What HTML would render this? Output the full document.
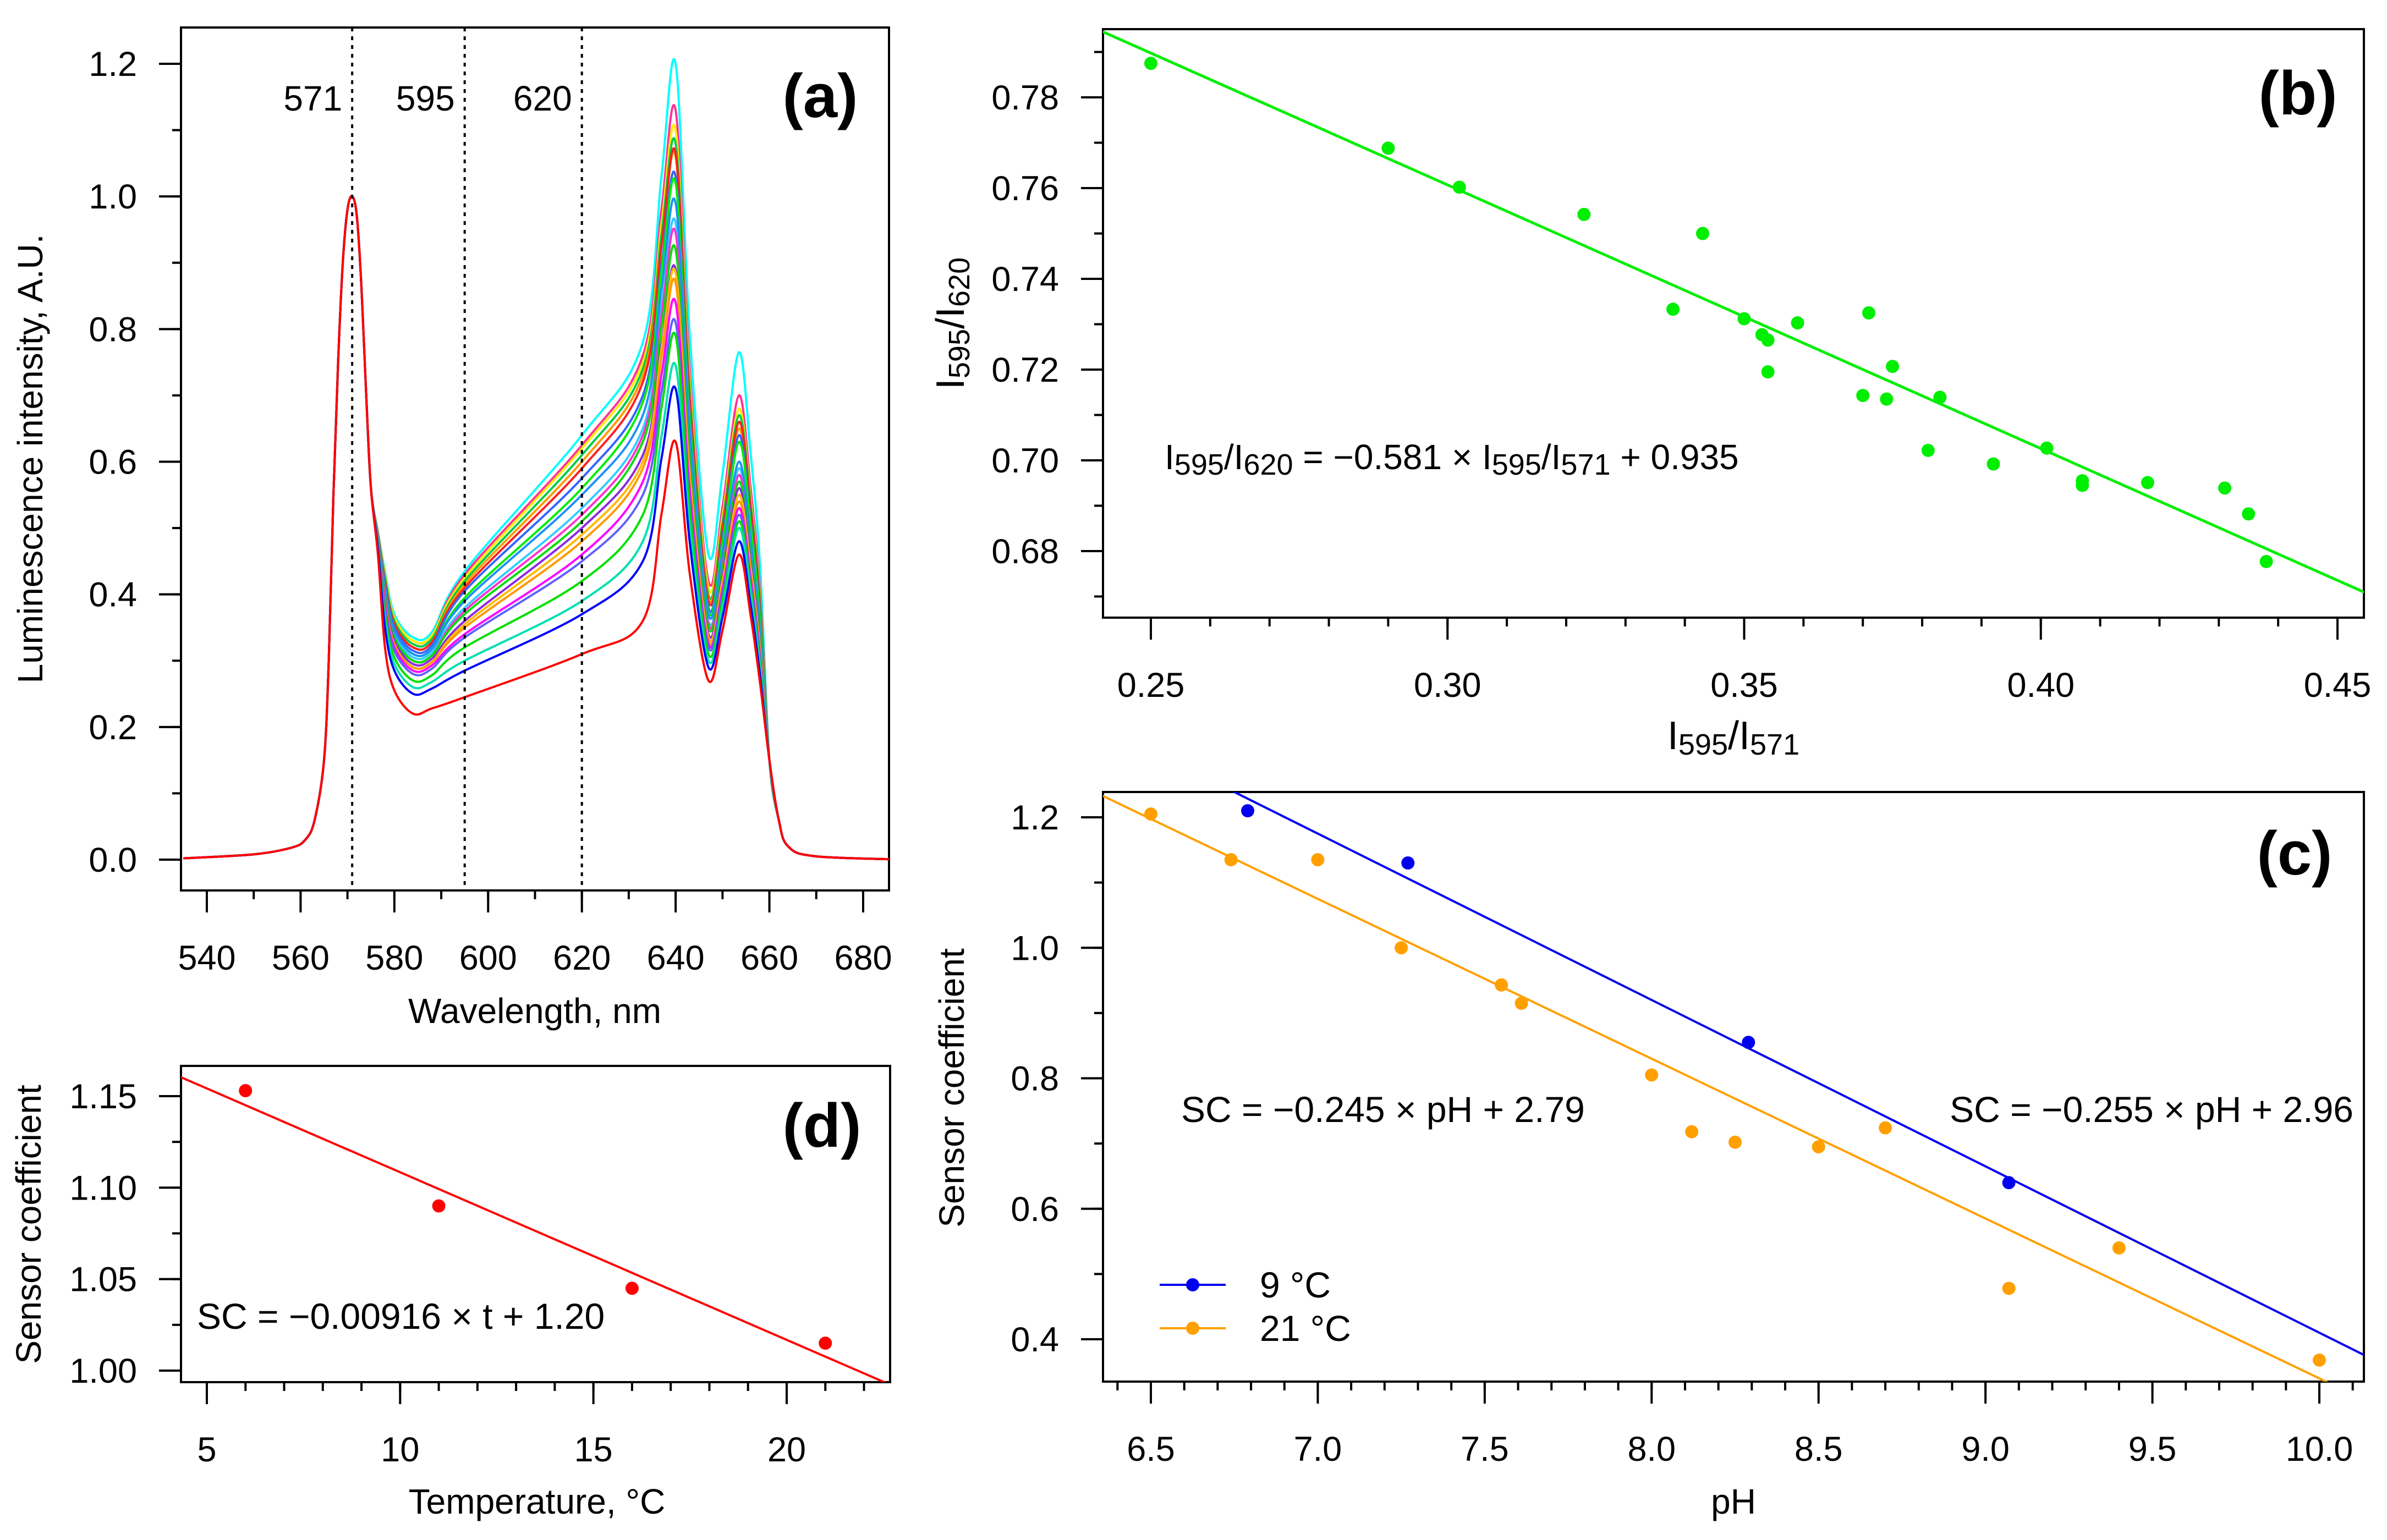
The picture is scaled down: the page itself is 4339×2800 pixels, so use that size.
<!DOCTYPE html>
<html><head><meta charset="utf-8"><style>
html,body{margin:0;padding:0;background:#fff;}
svg{display:block;font-family:"Liberation Sans",sans-serif;}
</style></head><body>
<svg id="fig" width="4339" height="2800" viewBox="0 0 4339 2800" xmlns="http://www.w3.org/2000/svg"></svg>
<script>
// ---------- Panel (a) spectra data ----------
const sharedWl = [535,550,558,561,563,565,566,567,568,569,570,571,572,573,574,575];
const sharedVal = [0.002,0.008,0.018,0.03,0.06,0.15,0.3,0.55,0.75,0.9,0.98,1.0,0.97,0.86,0.7,0.56];
const curveColors = ["#00ffff","#ff3399","#ffee00","#00cc44","#ff9900","#ff2020","#3366ff","#00ee00","#33ccff","#ff33cc","#1e90ff","#00dd00","#8a2be2","#ffbb00","#ff9900","#ff00ff","#6060ff","#00e000","#00e0b0","#0000ff","#ff0000"];
const valleyVals = [0.335,0.33,0.33,0.325,0.32,0.32,0.315,0.31,0.305,0.30,0.31,0.30,0.295,0.29,0.29,0.285,0.28,0.27,0.26,0.25,0.22];
const v595Vals = [0.435,0.43,0.425,0.42,0.415,0.41,0.405,0.395,0.38,0.375,0.39,0.37,0.36,0.355,0.35,0.34,0.335,0.32,0.30,0.285,0.245];
const v620Vals = [0.64,0.625,0.62,0.61,0.60,0.59,0.575,0.56,0.53,0.52,0.55,0.51,0.50,0.49,0.48,0.46,0.45,0.42,0.39,0.37,0.31];
const v633Vals = [0.78,0.76,0.75,0.74,0.73,0.72,0.70,0.69,0.65,0.64,0.67,0.63,0.61,0.60,0.59,0.57,0.55,0.52,0.48,0.45,0.36];
const peak640Vals = [1.20,1.13,1.10,1.08,1.06,1.065,1.03,1.02,0.96,0.945,0.99,0.92,0.89,0.885,0.87,0.84,0.81,0.79,0.745,0.71,0.63];
const dip647Vals = [0.46,0.42,0.41,0.40,0.395,0.39,0.38,0.375,0.36,0.355,0.37,0.35,0.34,0.335,0.33,0.325,0.32,0.31,0.30,0.29,0.27];
const peak653Vals = [0.765,0.70,0.68,0.67,0.65,0.66,0.64,0.63,0.59,0.58,0.60,0.57,0.56,0.55,0.54,0.53,0.52,0.51,0.50,0.48,0.46];
const markerWl = [571,595,620];
const aXTicks = [540,560,580,600,620,640,660,680];
const aYTicks = [0.0,0.2,0.4,0.6,0.8,1.0,1.2];

// ---------- Panel (b) ----------
const bX = [0.250,0.290,0.302,0.323,0.343,0.338,0.350,0.353,0.354,0.354,0.359,0.371,0.370,0.374,0.375,0.383,0.381,0.392,0.401,0.407,0.407,0.418,0.431,0.435,0.438];
const bY = [0.7875,0.7688,0.7602,0.7542,0.7500,0.7333,0.7312,0.7277,0.7265,0.7195,0.7303,0.7325,0.7143,0.7135,0.7207,0.7139,0.7022,0.6992,0.7027,0.6955,0.6945,0.6951,0.6939,0.6882,0.6777];
const bFit = [-0.581,0.935];
const bXTicks = [0.25,0.30,0.35,0.40,0.45];
const bYTicks = [0.68,0.70,0.72,0.74,0.76,0.78];

// ---------- Panel (c) ----------
const c9X = [6.79,7.27,8.29,9.07];
const c9Y = [1.21,1.13,0.855,0.64];
const c21X = [6.5,6.74,7.0,7.25,7.55,7.61,8.0,8.12,8.25,8.5,8.7,9.07,9.4,10.0];
const c21Y = [1.205,1.135,1.135,1.0,0.943,0.915,0.805,0.718,0.702,0.695,0.724,0.478,0.54,0.368];
const c9Fit = [-0.255,2.96];
const c21Fit = [-0.245,2.79];
const cXTicks = [6.5,7.0,7.5,8.0,8.5,9.0,9.5,10.0];
const cYTicks = [0.4,0.6,0.8,1.0,1.2];

// ---------- Panel (d) ----------
const dX = [6,11,16,21];
const dY = [1.153,1.090,1.045,1.015];
const dFit = [-0.00916,1.20];
const dXTicks = [5,10,15,20];
const dYTicks = ["1.00","1.05","1.10","1.15"];

const NS="http://www.w3.org/2000/svg";
const svg=document.getElementById('fig');
function mk(tag,attrs,parent){const e=document.createElementNS(NS,tag);for(const k in attrs)e.setAttribute(k,attrs[k]);(parent||svg).appendChild(e);return e;}
function scale(d0,d1,r0,r1){return v=>r0+(v-d0)*(r1-r0)/(d1-d0);}

function drawAxes(g,P,sx,sy,xt,yt,xminor,yminor,fmtX,fmtY){
  const cid='clip'+P.id;
  const cp=mk('clipPath',{id:cid},g);
  mk('rect',{x:P.l,y:P.t,width:P.r-P.l,height:P.b-P.t},cp);
  for(const v of xminor){const x=sx(v);if(x<P.l-1||x>P.r+1)continue;
    const t=mk('line',{x1:x,x2:x,y1:P.b,y2:P.b+16,stroke:'#000','stroke-width':4},g);
    }
  for(const v of yminor){const y=sy(v);if(y<P.t-1||y>P.b+1)continue;
    const t=mk('line',{x1:P.l-16,x2:P.l,y1:y,y2:y,stroke:'#000','stroke-width':4},g);
    }
  for(const v of xt){const x=sx(+v);
    const t=mk('line',{x1:x,x2:x,y1:P.b,y2:P.b+40,stroke:'#000','stroke-width':4},g);
    
    const tx=mk('text',{x:x,y:P.b+144,'font-size':63,'text-anchor':'middle'},g);tx.textContent=fmtX(v);
    }
  for(const v of yt){const y=sy(+v);
    const t=mk('line',{x1:P.l-40,x2:P.l,y1:y,y2:y,stroke:'#000','stroke-width':4},g);
    
    const tx=mk('text',{x:P.l-80,y:y+22,'font-size':63,'text-anchor':'end'},g);tx.textContent=fmtY(v);
    }
  const box=mk('rect',{x:P.l,y:P.t,width:P.r-P.l,height:P.b-P.t,fill:'none',stroke:'#000','stroke-width':4},g);
  
  return 'url(#'+cid+')';
}
function range(a,b,s){const o=[];for(let v=a;v<=b+1e-9;v+=s)o.push(+v.toFixed(4));return o;}
function crPath(pts){let d='M'+pts[0][0]+','+pts[0][1];
  for(let i=0;i<pts.length-1;i++){const p0=pts[Math.max(0,i-1)],p1=pts[i],p2=pts[i+1],p3=pts[Math.min(pts.length-1,i+2)];
    const c1=[p1[0]+(p2[0]-p0[0])/6,p1[1]+(p2[1]-p0[1])/6],c2=[p2[0]-(p3[0]-p1[0])/6,p2[1]-(p3[1]-p1[1])/6];
    d+=' C'+c1[0].toFixed(1)+','+c1[1].toFixed(1)+' '+c2[0].toFixed(1)+','+c2[1].toFixed(1)+' '+p2[0].toFixed(1)+','+p2[1].toFixed(1);}
  return d;}
function label(g,txt,attrs,name){const t=mk('text',attrs,g);t.textContent=txt;return t;}
function subText(g,parts,attrs,name,sub){const t=mk('text',attrs,g);
  for(const p of parts){const s=mk('tspan',{},t);s.textContent=p[0];
    if(p[1]){s.setAttribute('font-size',sub.fs);s.setAttribute('dy',sub.dy);} else if(p[2]){s.setAttribute('dy',-sub.dy);} }
  return t;}

// ===== Panel a =====
(function(){
  const g=mk('g',{});
  const P={id:'a',l:329,r:1616,t:50,b:1619};
  const sx=scale(540,680,376,1569), sy=scale(0,1.2,1563,116);
  const clip=drawAxes(g,P,sx,sy,aXTicks,aYTicks,range(530,690,10),range(0,1.3,0.1),v=>String(v),v=>v.toFixed(1));
  const cg=mk('g',{'clip-path':clip},g);
  for(let i=0;i<curveColors.length;i++){
    const pts=sharedWl.map((w,k)=>[w,sharedVal[k]]);
    const va=valleyVals[i],p6=peak640Vals[i],dp=dip647Vals[i],p5=peak653Vals[i],v3=v633Vals[i];
    pts.push([576.5,0.46+0.3*(va-0.22)],[578,va+0.1],[580,va+0.035],[584,va],[588,va+0.008],[595,v595Vals[i]],[620,v620Vals[i]],[633,v3],
      [637,v3+0.6*(p6-v3)],[640,p6],[643,dp+0.45*(p6-dp)],[647,dp],[650,dp+0.4*(p5-dp)],[653.5,p5],[656,p5*0.8],[658,p5*0.58],
      [660,0.15],[662,0.06],[664,0.02],[670,0.005],[690,0]);
    const path=mk('path',{d:crPath(pts.map(p=>[sx(p[0]),sy(p[1])])),fill:'none',stroke:curveColors[i],'stroke-width':4,'stroke-linejoin':'round'},cg);
    
  }
  for(const w of markerWl){
    const l=mk('line',{x1:sx(w),x2:sx(w),y1:P.t,y2:P.b,stroke:'#000','stroke-width':4,'stroke-dasharray':'7 9'},g);
    
    label(g,String(w),{x:sx(w)-18,y:201,'font-size':64,'text-anchor':'end'},'marker-label-'+w);
  }
  label(g,'(a)',{x:1491,y:213,'font-size':112,'font-weight':'bold','text-anchor':'middle'},'panel-label-a');
  label(g,'Wavelength, nm',{x:972,y:1860,'font-size':64,'text-anchor':'middle'},'x-axis-title');
  label(g,'Luminescence intensity, A.U.',{x:0,y:0,'font-size':64,'text-anchor':'middle',transform:'translate(77,834) rotate(-90)'},'y-axis-title');
})();

// ===== Panel b =====
(function(){
  const g=mk('g',{});
  const P={id:'b',l:2005,r:4297,t:53,b:1123};
  const sx=scale(0.25,0.45,2092,4249), sy=scale(0.68,0.78,1002,177);
  const clip=drawAxes(g,P,sx,sy,bXTicks,bYTicks,range(0.24,0.46,0.01),range(0.66,0.80,0.01),v=>v.toFixed(2),v=>v.toFixed(2));
  const cg=mk('g',{'clip-path':clip},g);
  const x0=0.24,x1=0.46;
  const fl=mk('line',{x1:sx(x0),y1:sy(bFit[0]*x0+bFit[1]),x2:sx(x1),y2:sy(bFit[0]*x1+bFit[1]),stroke:'#00ee00','stroke-width':5},cg);
  
  for(let i=0;i<bX.length;i++){const c=mk('circle',{cx:sx(bX[i]),cy:sy(bY[i]),r:12,fill:'#00ee00'},cg);
    }
  label(g,'(b)',{x:4177,y:208,'font-size':112,'font-weight':'bold','text-anchor':'middle'},'panel-label-b');
  const sub={fs:54,dy:10};
  subText(g,[['I'],['595',1],['/I',0,1],['620',1],[' = −0.581 × I',0,1],['595',1],['/I',0,1],['571',1],[' + 0.935',0,1]],{x:2117,y:853,'font-size':64},'fit-equation',sub);
  subText(g,[['I'],['595',1],['/I',0,1],['571',1]],{x:3151,y:1362,'font-size':72,'text-anchor':'middle'},'x-axis-title',sub);
  subText(g,[['I'],['595',1],['/I',0,1],['620',1]],{x:0,y:0,'font-size':72,'text-anchor':'middle',transform:'translate(1752,588) rotate(-90)'},'y-axis-title',sub);
})();

// ===== Panel c =====
(function(){
  const g=mk('g',{});
  const P={id:'c',l:2005,r:4297,t:1440,b:2512};
  const sx=scale(6.5,10.0,2092,4216), sy=scale(0.4,1.2,2435,1486);
  const clip=drawAxes(g,P,sx,sy,cXTicks,cYTicks,range(6.3,10.2,0.1),range(0.3,1.3,0.1),v=>v.toFixed(1),v=>v.toFixed(1));
  const cg=mk('g',{'clip-path':clip},g);
  const x0=6.2,x1=10.3;
  const series=[[c9X,c9Y,c9Fit,'#0000ee','9'],[c21X,c21Y,c21Fit,'#ffa000','21']];
  for(const [xs,ys,fit,col,nm] of series){
    const l=mk('line',{x1:sx(x0),y1:sy(fit[0]*x0+fit[1]),x2:sx(x1),y2:sy(fit[0]*x1+fit[1]),stroke:col,'stroke-width':4},cg);
    
    for(let i=0;i<xs.length;i++){const c=mk('circle',{cx:sx(xs[i]),cy:sy(ys[i]),r:12,fill:col},cg);
      }
  }
  label(g,'(c)',{x:4171,y:1590,'font-size':112,'font-weight':'bold','text-anchor':'middle'},'panel-label-c');
  label(g,'SC = −0.245 × pH + 2.79',{x:2147,y:2040,'font-size':66},'fit-equation-21c');
  label(g,'SC = −0.255 × pH + 2.96',{x:4278,y:2040,'font-size':66,'text-anchor':'end'},'fit-equation-9c');
  const legend=[['9 °C','#0000ee',2336],['21 °C','#ffa000',2415]];
  for(const [t,col,y] of legend){
    const lg=mk('g',{},g);
    mk('line',{x1:2108,x2:2228,y1:y,y2:y,stroke:col,'stroke-width':4},lg);
    mk('circle',{cx:2168,cy:y,r:12,fill:col},lg);
    label(lg,t,{x:2290,y:y+23,'font-size':66},'legend-label');
  }
  label(g,'pH',{x:3151,y:2752,'font-size':64,'text-anchor':'middle'},'x-axis-title');
  label(g,'Sensor coefficient',{x:0,y:0,'font-size':64,'text-anchor':'middle',transform:'translate(1752,1978) rotate(-90)'},'y-axis-title');
})();

// ===== Panel d =====
(function(){
  const g=mk('g',{});
  const P={id:'d',l:329,r:1618,t:1938,b:2513};
  const sx=scale(5,20,376,1430), sy=scale(1.0,1.15,2492,1993);
  const clip=drawAxes(g,P,sx,sy,dXTicks,dYTicks,range(4,23,1),range(0.975,1.175,0.025),v=>String(v),v=>String(v));
  const cg=mk('g',{'clip-path':clip},g);
  const x0=4,x1=23;
  const l=mk('line',{x1:sx(x0),y1:sy(dFit[0]*x0+dFit[1]),x2:sx(x1),y2:sy(dFit[0]*x1+dFit[1]),stroke:'#ff0000','stroke-width':4},cg);
  
  for(let i=0;i<dX.length;i++){const c=mk('circle',{cx:sx(dX[i]),cy:sy(dY[i]),r:12,fill:'#ff0000'},cg);
    }
  label(g,'(d)',{x:1494,y:2085,'font-size':112,'font-weight':'bold','text-anchor':'middle'},'panel-label-d');
  label(g,'SC = −0.00916 × t + 1.20',{x:358,y:2416,'font-size':66},'fit-equation');
  label(g,'Temperature, °C',{x:976,y:2752,'font-size':64,'text-anchor':'middle'},'x-axis-title');
  label(g,'Sensor coefficient',{x:0,y:0,'font-size':64,'text-anchor':'middle',transform:'translate(74,2226) rotate(-90)'},'y-axis-title');
})();
</script>
</body></html>
